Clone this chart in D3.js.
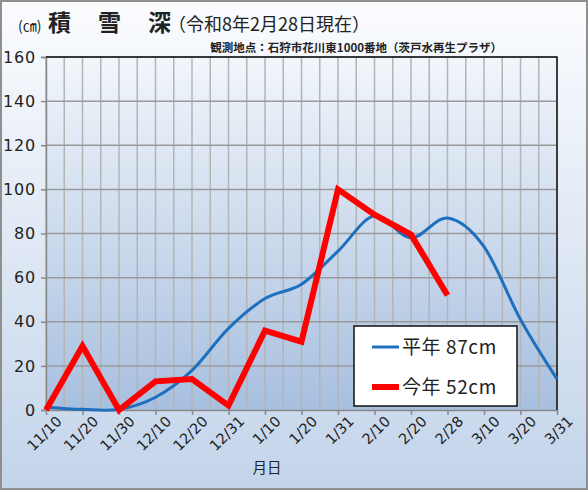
<!DOCTYPE html>
<html>
<head>
<meta charset="utf-8">
<style>
  body { margin: 0; background: #fff; }
  svg text { font-family: "Noto Sans CJK JP", "DejaVu Sans", sans-serif; fill: #222; }
  .num { font-family: "DejaVu Sans", sans-serif; }
</style>
</head>
<body>
<svg id="chart" width="588" height="490"></svg>
<script src="https://d3js.org/d3.v7.min.js"></script>
<script>

// data
var dates = ["11/10", "11/20", "11/30", "12/10", "12/20", "12/31", "1/10", "1/20",
             "1/31", "2/10", "2/20", "2/28", "3/10", "3/20", "3/31"];
var normal = [1.3, 0.3, 0.3, 5.8, 18, 37, 50.5, 57, 72, 88, 78, 87, 74, 41, 14];
var thisYear = [0, 29, 0, 13, 14, 2, 36, 31, 100, 88.5, 79.5, 52];
var yTicks = [0, 20, 40, 60, 80, 100, 120, 140, 160];
var legendLabels = ["平年 87cm", "今年 52cm"];

var svg = d3.select("#chart"),
    W = +svg.attr("width"),
    H = +svg.attr("height"),
    margin = {top: 57, right: 31, bottom: 80, left: 46},
    x0 = margin.left, x1 = W - margin.right,
    y0 = margin.top, y1 = H - margin.bottom;

var defs = svg.append("defs");
var bg = defs.append("linearGradient").attr("id", "bg")
    .attr("x1", 0).attr("y1", 0).attr("x2", 0).attr("y2", 1);
bg.append("stop").attr("offset", "0%").attr("stop-color", "#fbfcfe");
bg.append("stop").attr("offset", "100%").attr("stop-color", "#c3d4ea");
var pg = defs.append("linearGradient").attr("id", "plotbg")
    .attr("x1", 0).attr("y1", 0).attr("x2", 0).attr("y2", 1);
pg.append("stop").attr("offset", "0%").attr("stop-color", "#f2f6fb");
pg.append("stop").attr("offset", "100%").attr("stop-color", "#a7bfdf");

svg.append("rect")
    .attr("x", 1).attr("y", 1).attr("width", W - 2).attr("height", H - 2)
    .attr("fill", "url(#bg)")
    .attr("stroke", "#8f8f8f").attr("stroke-width", 2);

var x = d3.scalePoint().domain(dates).range([x0, x1]);
var y = d3.scaleLinear().domain([0, 160]).range([y1, y0]);

svg.append("rect")
    .attr("x", x0).attr("y", y0).attr("width", x1 - x0).attr("height", y1 - y0)
    .attr("fill", "url(#plotbg)");

// grid: vertical lines every half category
var half = [];
dates.forEach(function(d, i) {
  half.push(x(d));
  if (i < dates.length - 1) half.push(x(d) + x.step() / 2);
});
svg.append("g").selectAll("line").data(half).join("line")
    .attr("x1", function(d) { return d; }).attr("x2", function(d) { return d; })
    .attr("y1", y0).attr("y2", y1)
    .attr("stroke", "#b4b4b4").attr("stroke-width", 1.5);

svg.append("g").selectAll("line").data(yTicks.slice(1)).join("line")
    .attr("x1", x0).attr("x2", x1)
    .attr("y1", function(d) { return y(d); }).attr("y2", function(d) { return y(d); })
    .attr("stroke", "#9a9a9a").attr("stroke-width", 1.5);

// y axis
var yAxis = svg.append("g")
    .attr("transform", "translate(" + x0 + ",0)")
    .call(d3.axisLeft(y).tickValues(yTicks).tickSize(5).tickPadding(8));
yAxis.select(".domain").attr("stroke", "#8a8a8a").attr("stroke-width", 1.5);
yAxis.selectAll(".tick line").attr("stroke", "#8a8a8a").attr("stroke-width", 1.5);
yAxis.selectAll("text")
    .attr("class", "num")
    .attr("x", -10)
    .style("font-size", "16px").style("letter-spacing", "0.8px").style("fill", "#222");

// x axis
var xAxis = svg.append("g")
    .attr("transform", "translate(0," + y1 + ")")
    .call(d3.axisBottom(x).tickSize(5).tickSizeOuter(0));
xAxis.select(".domain").attr("stroke", "#8a8a8a").attr("stroke-width", 1.5);
xAxis.selectAll(".tick line").attr("stroke", "#8a8a8a").attr("stroke-width", 1.5);
xAxis.selectAll("text")
    .attr("class", "num")
    .attr("text-anchor", "end")
    .attr("x", 3).attr("y", 10).attr("dy", "0.7em")
    .attr("transform", "rotate(-45)")
    .style("font-size", "14.5px").style("fill", "#222");

// top and right border
svg.append("path")
    .attr("d", "M" + x0 + "," + y0 + "H" + x1 + "V" + y1)
    .attr("fill", "none").attr("stroke", "#111").attr("stroke-width", 1.5);

// lines
svg.append("path")
    .datum(normal)
    .attr("fill", "none")
    .attr("stroke", "#1f6fbf")
    .attr("stroke-width", 3)
    .attr("d", d3.line()
        .x(function(d, i) { return x(dates[i]); })
        .y(function(d) { return y(d); })
        .curve(d3.curveCatmullRom.alpha(0)));

svg.append("path")
    .datum(thisYear)
    .attr("fill", "none")
    .attr("stroke", "#ff0000")
    .attr("stroke-width", 6)
    .attr("stroke-linejoin", "miter")
    .attr("d", d3.line()
        .x(function(d, i) { return x(dates[i]); })
        .y(function(d) { return y(d); }));

// legend
var lg = svg.append("g").attr("transform", "translate(354,326)");
lg.append("rect")
    .attr("width", 163).attr("height", 80)
    .attr("fill", "#fff").attr("stroke", "#111").attr("stroke-width", 1.5);
[["#1f6fbf", 3], ["#ff0000", 6]].forEach(function(s, i) {
  var yy = 21 + i * 40;
  lg.append("line")
      .attr("x1", 18).attr("x2", 45).attr("y1", yy).attr("y2", yy)
      .attr("stroke", s[0]).attr("stroke-width", s[1]);
  lg.append("text")
      .attr("x", 48).attr("y", yy).attr("dy", "0.36em")
      .style("font-size", "19px").style("letter-spacing", "0.6px")
      .text(legendLabels[i]);
});

// titles
var t = svg.append("text").attr("x", 18).attr("y", 31);
t.append("tspan").style("font-size", "14px").text("(㎝)");
t.append("tspan").style("font-size", "23px").style("font-weight", "bold")
    .attr("x", 48).text("積");
t.append("tspan").style("font-size", "23px").style("font-weight", "bold")
    .attr("x", 98).text("雪");
t.append("tspan").style("font-size", "23px").style("font-weight", "bold")
    .attr("x", 148).text("深");
t.append("tspan").style("font-size", "18px")
    .attr("x", 168).text("（令和8年2月28日現在）");

svg.append("text")
    .attr("x", 502).attr("y", 52)
    .attr("text-anchor", "end")
    .style("font-size", "11.5px")
    .style("font-weight", "bold")
    .text("観測地点：石狩市花川東1000番地（茨戸水再生プラザ）");

svg.append("text")
    .attr("x", 267).attr("y", 473)
    .attr("text-anchor", "middle")
    .style("font-size", "14.5px")
    .text("月日");

</script>
</body>
</html>
